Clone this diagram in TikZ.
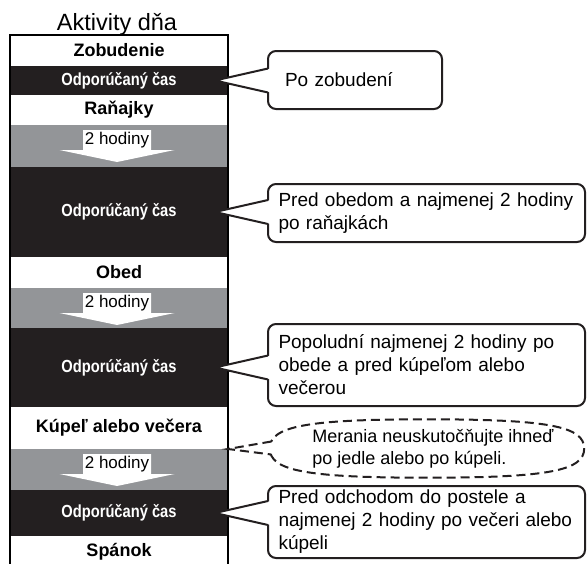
\documentclass[tikz,border=0pt]{standalone}
\usepackage{fontspec}
\setmainfont{Liberation Sans}
\newfontfamily\narrowfont[FakeStretch=0.84]{Liberation Sans}
\usetikzlibrary{calc,positioning,shapes.geometric}
\definecolor{bandblack}{RGB}{35,31,32}
\definecolor{bandgray}{RGB}{147,149,152}

\begin{document}
\begin{tikzpicture}[x=1pt,y=-1pt,node distance=0pt,
  lite/.style={fill=white,minimum width=218pt,inner sep=0pt,outer sep=0pt,font=\fontsize{18}{20}\selectfont\bfseries},
  dark/.style={lite,fill=bandblack,text=white,font=\narrowfont\fontsize{17.5}{20}\selectfont\bfseries},
  gap/.style={lite,fill=bandgray},
  hrs/.style={inner sep=0pt,font=\fontsize{17}{20}\selectfont},
  bubble/.style={draw=bandblack,line width=2pt,fill=white,rounded corners=8pt,outer sep=0pt,align=left,font=\fontsize{19}{23}\selectfont},
  pointer/.style={draw=bandblack,line width=2pt},
  warnline/.style={pointer,dash pattern=on 9pt off 5pt}]
\clip (0,0) rectangle (587,563);
\node[anchor=base,font=\fontsize{23.5}{26}\selectfont] (title) at (117,30) {Aktivity dňa};
\node[lite,minimum height=31pt] (zob) at (119,50.5) {Zobudenie};
\node[dark,minimum height=29pt,below=of zob] (rec1) {Odporúčaný čas};
\node[lite,minimum height=30pt,below=of rec1] (ran) {Raňajky};
\node[gap,minimum height=42pt,below=of ran] (gap1) {};
\node[dark,minimum height=90pt,below=of gap1] (rec2) {Odporúčaný čas};
\node[lite,minimum height=31pt,below=of rec2] (obed) {Obed};
\node[gap,minimum height=40pt,below=of obed] (gap2) {};
\node[dark,minimum height=79pt,below=of gap2] (rec3) {Odporúčaný čas};
\node[lite,minimum height=42pt,below=of rec3] (kup) {Kúpeľ alebo večera};
\node[gap,minimum height=41pt,below=of kup] (gap3) {};
\node[dark,minimum height=46pt,below=of gap3] (rec4) {Odporúčaný čas};
\node[lite,minimum height=32pt,below=of rec4] (span) {Spánok};
\draw[line width=2pt] (zob.north west) rectangle (span.south east);
\foreach \g [count=\i] in {gap1,gap2,gap3}{
  \fill[white] ($(\g.north)+(-36,5)$) -- ++(68,0) -- ++(0,20) -- ++(23.5,0)
    -- ($(\g.north)+(-2,37)$) -- ($(\g.north)+(-59.5,25)$) -- ++(23.5,0) -- cycle;
  \node[hrs] (h\i) at ($(\g.north)+(-2,15.5)$) {2 hodiny};
}
\node[bubble,minimum width=174pt,minimum height=58pt,text width=140pt] (cb1) at (355,80) {Po zobudení};
\node[bubble,minimum width=317pt,minimum height=58pt,text width=296pt] (cb2) at (426.5,213)
  {Pred obedom a najmenej 2 hodiny\\po raňajkách};
\node[bubble,minimum width=317pt,minimum height=82pt,text width=296pt] (cb3) at (426.5,365)
  {Popoludní najmenej 2 hodiny po\\obede a pred kúpeľom alebo\\večerou};
\node[bubble,minimum width=317pt,minimum height=72pt,text width=296pt] (cb4) at (426.5,522)
  {Pred odchodom do postele a\\najmenej 2 hodiny po večeri alebo\\kúpeli};
\foreach \r/\c in {rec1/cb1,rec2/cb2,rec3/cb3,rec4/cb4}{
  \coordinate (tip) at ($(\r.east)+(-13,0)$);
  \fill[white] (tip) -- ($(\c.west|-tip)+(3,-12)$) -- ($(\c.west|-tip)+(3,12)$) -- cycle;
  \draw[pointer] ($(\c.west|-tip)+(0,-12)$) -- (tip) -- ($(\c.west|-tip)+(0,12)$);
}
\node[minimum width=314pt,minimum height=58pt,inner sep=0pt] (warn) at (427,448.5) {};
\draw[warnline,fill=white] (warn.west) .. controls ($(warn.west)+(0,-22)$) and ($(warn.north)+(-122,0)$) .. (warn.north)
  .. controls ($(warn.north)+(122,0)$) and ($(warn.east)+(0,-22)$) .. (warn.east)
  .. controls ($(warn.east)+(0,22)$) and ($(warn.south)+(122,0)$) .. (warn.south)
  .. controls ($(warn.south)+(-122,0)$) and ($(warn.west)+(0,22)$) .. cycle;
\node[align=left,font=\fontsize{18}{22}\selectfont] (warntxt) at ($(warn)+(6,0)$) {Merania neuskutočňujte ihneď\\po jedle alebo po kúpeli.};
\coordinate (w1) at ($(warn.west)+(1.5,-7)$);
\coordinate (w2) at ($(warn.west)+(1.5,6)$);
\fill[white] (kup.south east) -- ($(w1)+(5,0)$) -- ($(w2)+(5,0)$) -- cycle;
\draw[warnline] (w1) -- (kup.south east) -- (w2);
\end{tikzpicture}
\end{document}
